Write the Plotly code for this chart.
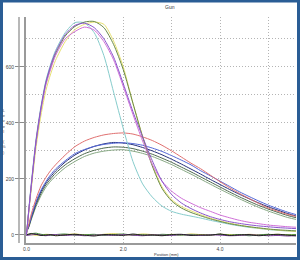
import plotly.graph_objects as go

# ---------------- data ----------------
pos = [0, 0.05, 0.1, 0.2, 0.3, 0.4, 0.5, 0.6, 0.8, 1.0, 1.2, 1.4, 1.6, 1.8, 2.0,
       2.2, 2.4, 2.6, 2.8, 3.0, 3.2, 3.4, 3.6, 3.8, 4.0, 4.2, 4.4, 4.6, 4.8, 5.0,
       5.2, 5.4, 5.6]

# high group
cyan = [0, 95, 185, 345, 460, 550, 610, 658, 722, 758, 757, 722, 640, 510, 380,
        262, 182, 135, 103, 84, 74, 67, 60, 52, 45, 38, 32, 27, 23, 19, 16, 14, 12]
violet = [0, 93, 180, 340, 455, 545, 605, 652, 715, 748, 756, 740, 700, 635, 540,
          440, 350, 265, 192, 144, 114, 94, 78, 65, 55, 47, 41, 36, 32, 29, 26, 24, 22]
magenta = [0, 90, 176, 333, 448, 535, 592, 640, 700, 726, 742, 731, 690, 625, 530,
           430, 335, 252, 192, 156, 131, 113, 97, 84, 71, 61, 52, 45, 40, 35, 32, 29, 27]
yellow = [0, 85, 165, 315, 428, 515, 575, 623, 690, 733, 752, 760, 752, 692, 600,
          470, 352, 250, 172, 126, 101, 86, 72, 60, 50, 42, 35, 29, 24, 20, 17, 14, 12]
olive = [0, 90, 175, 335, 450, 540, 598, 646, 710, 744, 760, 762, 740, 680, 590,
         470, 350, 246, 166, 121, 96, 80, 68, 57, 48, 40, 34, 29, 25, 21, 18, 16, 14]

# low group
red = [10, 40, 75, 130, 175, 205, 230, 250, 285, 315, 335, 348, 357, 362, 364,
       360, 350, 337, 320, 300, 278, 256, 236, 213, 190, 168, 148, 130, 112, 96,
       84, 73, 65]
blue = [10, 35, 65, 120, 160, 190, 215, 235, 265, 290, 305, 316, 323, 327, 329,
        326, 320, 310, 298, 283, 267, 250, 229, 211, 192, 173, 154, 137, 121, 106,
        93, 81, 71]
navy = [10, 33, 62, 115, 155, 185, 208, 228, 260, 285, 303, 316, 325, 330, 328,
        322, 312, 300, 286, 270, 253, 235, 217, 198, 180, 162, 145, 129, 114, 100,
        88, 76, 66]
darkgreen = [10, 30, 58, 108, 148, 178, 200, 220, 250, 272, 290, 302, 310, 314, 313,
             308, 299, 288, 274, 259, 242, 225, 207, 189, 171, 153, 136, 120, 105, 92,
             80, 69, 60]
lightgreen = [10, 28, 55, 102, 140, 170, 192, 210, 240, 262, 280, 292, 299, 303, 304,
              299, 291, 280, 266, 251, 234, 217, 199, 181, 163, 146, 129, 113, 98, 85,
              73, 62, 54]

# baselines
base_black = [0, 3, 5, 2, -2, -1, 1, -3, 0, 2, -1, -4, 1, 0, -2, 3, -1, 0, -3, 1,
              2, -2, 0, -1, 3, -2, 0, 1, -3, 0, 2, -1, -4]
base_green = [0, 1, 4, 6, 2, 0, -2, 1, 3, -1, 0, 2, -2, 1, 3, -1, 0, -2, 2, 0,
              -1, 1, -2, 0, 2, -1, 1, -3, 0, 2, -1, 0, 1]
base_yellow = [0, 2, 1, -1, 0, 2, 1, -2, 1, 3, 0, -1, 2, 4, 1, 0, 3, 1, -1, 2,
               0, 3, 1, 0, 2, 1, -1, 2, 0, 1, 2, 0, 1]
base_purple = [-2, -1, 0, 2, -1, -3, 0, 1, -2, 0, -3, -1, 0, -2, 1, -1, -3, 0, -1, -2,
               1, -1, -2, 0, -1, -3, -2, 0, -1, -3, -2, -4, -2]

y_ticks = [0, 200, 400, 600]
x_ticks = [0.0, 2.0, 4.0]

series = [
    (base_yellow, "#d8cc40"), (base_green, "#3f8a3a"), (base_purple, "#7a3a9a"),
    (base_black, "#222222"),
    (lightgreen, "#86a882"), (darkgreen, "#4f6a4f"), (navy, "#25307a"),
    (blue, "#5468d8"), (red, "#e07070"),
    (cyan, "#86cccc"), (yellow, "#e6e070"), (olive, "#6a8a48"),
    (magenta, "#d070d8"), (violet, "#8a55cc"),
]

fig = go.Figure()
for vals, col in series:
    fig.add_trace(go.Scatter(x=pos, y=vals, mode="lines",
                             line=dict(color=col, width=1, shape="spline", smoothing=0.7),
                             showlegend=False, hoverinfo="skip"))

W, H = 300, 260
L, R, T, B = 26, 4, 17, 17
pw, ph = W - L - R, H - T - B

def px(xp):
    return (xp - L) / pw

def py(yp):
    return (H - B - yp) / ph

gcol = "#b4b4b4"
gdash = "1px,2px"
fig.update_layout(
    width=W, height=H,
    margin=dict(l=L, r=R, t=T, b=B, pad=0),
    paper_bgcolor="white", plot_bgcolor="white",
    font=dict(family="Liberation Sans", size=5, color="#444444"),
    xaxis=dict(range=[-0.01, 5.57], tickvals=x_ticks, ticktext=[f"{v:.1f}" for v in x_ticks],
               showgrid=True, gridcolor=gcol, griddash=gdash, gridwidth=1,
               minor=dict(dtick=1, tick0=0, showgrid=True, gridcolor=gcol,
                          griddash=gdash, gridwidth=1),
               showline=True, linecolor="#9a9a9a", linewidth=2,
               ticks="", ticklabelstandoff=0,
               zeroline=False, tickfont=dict(size=5)),
    yaxis=dict(range=[-29, 778], tickvals=y_ticks, ticktext=[str(v) for v in y_ticks],
               showgrid=True, gridcolor=gcol, griddash=gdash, gridwidth=1,
               minor=dict(dtick=100, tick0=0, showgrid=True, gridcolor=gcol,
                          griddash=gdash, gridwidth=1),
               showline=True, linecolor="#9a9a9a", linewidth=2,
               ticks="outside", ticklen=9, tickcolor="#8a8a8a",
               zeroline=False, tickfont=dict(size=5)),
    shapes=[
        dict(type="line", xref="paper", yref="paper", x0=px(19), x1=px(19),
             y0=0, y1=1, line=dict(color="#a0a0a0", width=1.5)),
        dict(type="rect", xref="paper", yref="paper",
             x0=px(1.5), x1=px(W - 1.5), y0=py(H - 1.5), y1=py(1),
             line=dict(color="#2a5d95", width=3)),
    ],
    annotations=[
        dict(text="Gun", xref="paper", yref="paper", x=px(170), y=py(7),
             xanchor="center", yanchor="middle",
             showarrow=False, font=dict(size=5, color="#333333")),
        dict(text="Position (mm)", xref="paper", yref="paper", x=px(166), y=py(254),
             xanchor="center", yanchor="middle",
             showarrow=False, font=dict(size=4, color="#333333")),
        dict(text="L<br>e<br>v<br>e<br>l<br> <br>(<br>%<br>)", xref="paper", yref="paper",
             x=px(4), y=py(131), xanchor="center", yanchor="middle", showarrow=False,
             font=dict(size=4, color="#555555")),
    ],
)

fig.write_html("out.html")
